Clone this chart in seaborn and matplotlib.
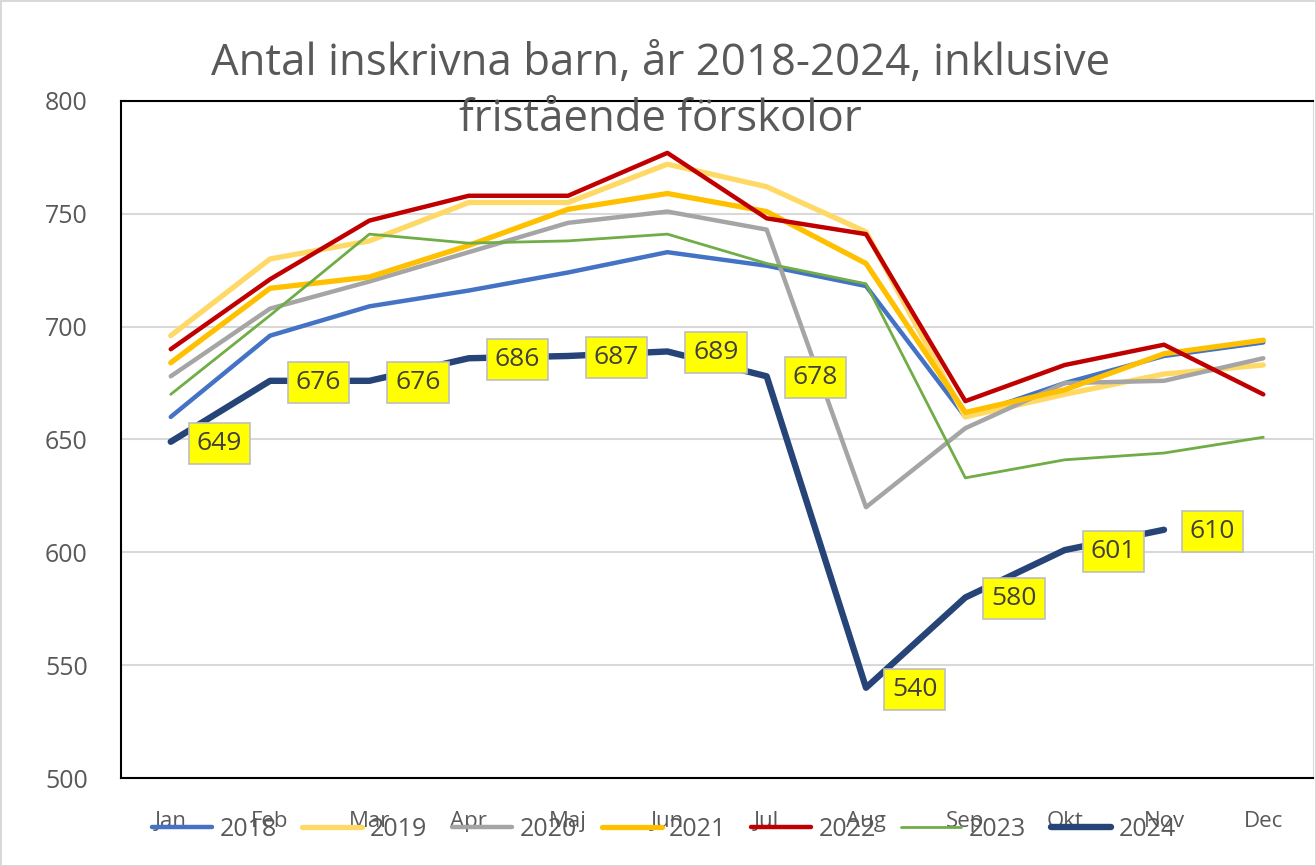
import pandas as pd
import matplotlib.pyplot as plt
import seaborn as sns

months = ['Jan', 'Feb', 'Mar', 'Apr', 'Maj', 'Jun', 'Jul', 'Aug', 'Sep', 'Okt', 'Nov', 'Dec']

y2018 = [660, 696, 709, 716, 724, 733, 727, 718, 660, 675, 687, 693]
y2019 = [696, 730, 738, 755, 755, 772, 762, 742, 660, 670, 679, 683]
y2020 = [678, 708, 720, 733, 746, 751, 743, 620, 655, 675, 676, 686]
y2021 = [684, 717, 722, 736, 752, 759, 751, 728, 662, 672, 688, 694]
y2022 = [690, 721, 747, 758, 758, 777, 748, 741, 667, 683, 692, 670]
y2023 = [670, 705, 741, 737, 738, 741, 728, 719, 633, 641, 644, 651]
y2024 = [649, 676, 676, 686, 687, 689, 678, 540, 580, 601, 610, None]

series = {'2018': y2018, '2019': y2019, '2020': y2020, '2021': y2021,
          '2022': y2022, '2023': y2023, '2024': y2024}
colors = {'2018': '#4472C4', '2019': '#FFD966', '2020': '#A5A5A5', '2021': '#FFC000',
          '2022': '#C00000', '2023': '#70AD47', '2024': '#264478'}
widths = {'2018': 3.2, '2019': 3.8, '2020': 3.2, '2021': 3.8,
          '2022': 3.2, '2023': 2.0, '2024': 4.6}

df = pd.DataFrame([(m, i, yr, v) for yr, vals in series.items()
                   for i, (m, v) in enumerate(zip(months, vals))],
                  columns=['month', 'pos', 'year', 'value']).dropna()

plt.rcParams['font.family'] = ['Open Sans', 'DejaVu Sans']
fig = plt.figure(figsize=(13.16, 8.66), dpi=100)
fig.patch.set_edgecolor('#D9D9D9')
fig.patch.set_linewidth(2)
ax = fig.add_axes([0.092, 0.1016, 0.9057, 0.7818])

for yr in series:
    d = df[df['year'] == yr]
    sns.lineplot(data=d, x='pos', y='value', color=colors[yr], linewidth=widths[yr],
                 label=yr, ax=ax, solid_capstyle='round', solid_joinstyle='round')

# data labels for 2024
d24 = df[df['year'] == '2024']
for p, v in zip(d24['pos'], d24['value']):
    ax.annotate(f'{int(v)}', (p, v), xytext=(35, -1), textcoords='offset points',
                ha='center', va='center', fontsize=19, color='#404040',
                bbox=dict(boxstyle='square,pad=0.3', fc='#FFFF00', ec='#BFBFBF', lw=1.2))

ax.set_xlim(-0.5, 11.5)
ax.set_ylim(500, 800)
ax.set_xticks(range(12))
ax.set_xticklabels(months, fontsize=16, color='#595959')
ax.set_yticks(range(500, 801, 50))
ax.tick_params(axis='y', labelsize=18, labelcolor='#595959', length=0, pad=24)
ax.tick_params(axis='x', length=0, pad=24)
ax.grid(axis='y', color='#D9D9D9', lw=1.5)
ax.set_axisbelow(True)
ax.set_xlabel('')
ax.set_ylabel('')
for s in ['left', 'top', 'bottom']:
    ax.spines[s].set_color('black')
    ax.spines[s].set_linewidth(1.5)
ax.spines['right'].set_color('#D9D9D9')

fig.text(0.502, 0.894, 'Antal inskrivna barn, år 2018-2024, inklusive\nfristående förskolor',
         ha='center', va='center', fontsize=31.5, color='#595959', linespacing=1.35)

ax.legend(loc='center', bbox_to_anchor=(0.5046, 0.042), bbox_transform=fig.transFigure,
          ncol=7, frameon=False, fontsize=18, handlelength=2.4, handletextpad=0.3,
          columnspacing=1.0, labelcolor='#595959')

plt.savefig('out.png', dpi=100)
